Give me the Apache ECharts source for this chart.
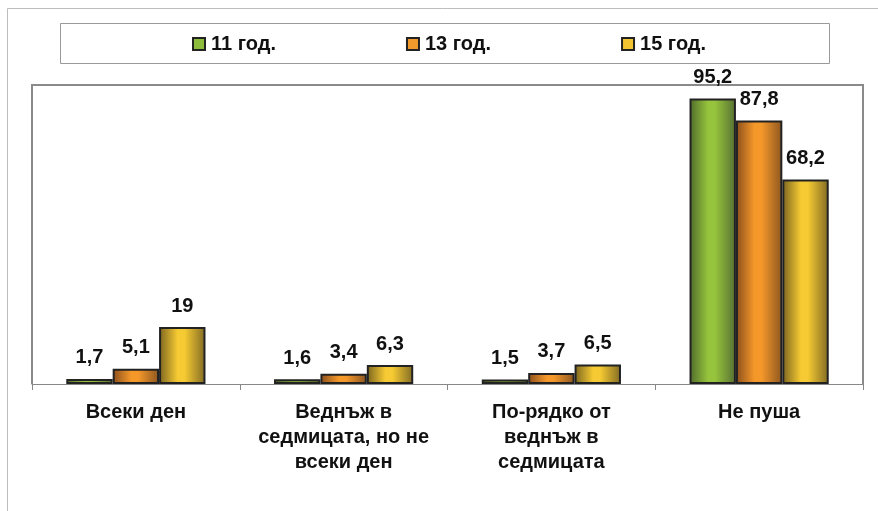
<!DOCTYPE html>
<html>
<head>
<meta charset="utf-8">
<script src="https://cdn.jsdelivr.net/npm/echarts@6/dist/echarts.min.js"></script>
<style>
  html, body { margin: 0; padding: 0; background: #fff; }
  #chart { width: 878px; height: 511px; }
</style>
</head>
<body>
<div id="chart"></div>
<script>
// Smoking frequency by age group (%)
const categories = ['Всеки ден', 'Веднъж в\nседмицата, но не\nвсеки ден', 'По-рядко от\nведнъж в\nседмицата', 'Не пуша'];
const seriesNames = ['11 год.', '13 год.', '15 год.'];
const age11 = [1.7, 1.6, 1.5, 95.2];
const age13 = [5.1, 3.4, 3.7, 87.8];
const age15 = [19, 6.3, 6.5, 68.2];

const FONT = '"Liberation Sans", Arial, sans-serif';

// Cylinder-like horizontal shading for each series
function shade(edgeL, mid, edgeR) {
  return new echarts.graphic.LinearGradient(0, 0, 1, 0, [
    { offset: 0, color: edgeL },
    { offset: 0.4, color: mid },
    { offset: 0.55, color: mid },
    { offset: 1, color: edgeR }
  ]);
}
const palette = [
  { flat: '#8dbb3a', grad: shade('#4f6a2c', '#96c43c', '#566e32') },
  { flat: '#f39a2c', grad: shade('#8a4e1c', '#f5982a', '#8c5620') },
  { flat: '#f2c530', grad: shade('#7a6420', '#f6ca32', '#806a24') }
];
const values = [age11, age13, age15];

const chart = echarts.init(document.getElementById('chart'));

const series = seriesNames.map((name, i) => ({
  name: name,
  type: 'bar',
  data: values[i],
  barGap: '0%',
  barCategoryGap: '33%',
  itemStyle: { color: palette[i].grad, borderColor: '#222', borderWidth: 2 },
  label: {
    show: true,
    position: 'top',
    distance: 11,
    color: '#111',
    fontFamily: FONT,
    fontWeight: 'bold',
    fontSize: 20,
    formatter: p => String(p.value).replace('.', ',')
  }
}));

chart.setOption({
  animation: false,
  textStyle: { fontFamily: FONT },
  graphic: [
    // outer frame (left and top edges)
    { type: 'polyline', shape: { points: [[7.5, 511], [7.5, 8.5], [878, 8.5]] },
      style: { stroke: '#bdbdbd', lineWidth: 1, fill: null }, silent: true },
    // legend box
    { type: 'rect', shape: { x: 60.5, y: 23.5, width: 769, height: 40 },
      style: { stroke: '#999', lineWidth: 1, fill: '#fff' }, silent: true, z: -1 },
    // plot area frame (left, top, right)
    { type: 'polyline', shape: { points: [[32, 384], [32, 85], [863, 85], [863, 384]] },
      style: { stroke: '#8a8a8a', lineWidth: 2, fill: null }, silent: true }
  ],
  legend: {
    top: 29,
    left: 187,
    itemGap: 130,
    itemWidth: 12,
    itemHeight: 12,
    icon: 'rect',
    textStyle: { fontFamily: FONT, fontWeight: 'bold', fontSize: 20, color: '#111', padding: [0, 0, 0, 1] },
    data: seriesNames.map((n, i) => ({
      name: n,
      itemStyle: { color: palette[i].flat, borderColor: '#222', borderWidth: 2 }
    }))
  },
  grid: { left: 32, right: 15, top: 84, bottom: 127, containLabel: false },
  xAxis: {
    type: 'category',
    data: categories,
    axisLine: { lineStyle: { color: '#888', width: 1 } },
    axisTick: { show: true, length: 6, interval: 0, lineStyle: { color: '#888' } },
    axisLabel: {
      interval: 0,
      margin: 16,
      color: '#111',
      fontFamily: FONT,
      fontWeight: 'bold',
      fontSize: 20,
      lineHeight: 25
    }
  },
  yAxis: {
    type: 'value',
    min: 0,
    max: 100,
    show: false,
    splitLine: { show: false }
  },
  series: series
});
</script>
</body>
</html>
